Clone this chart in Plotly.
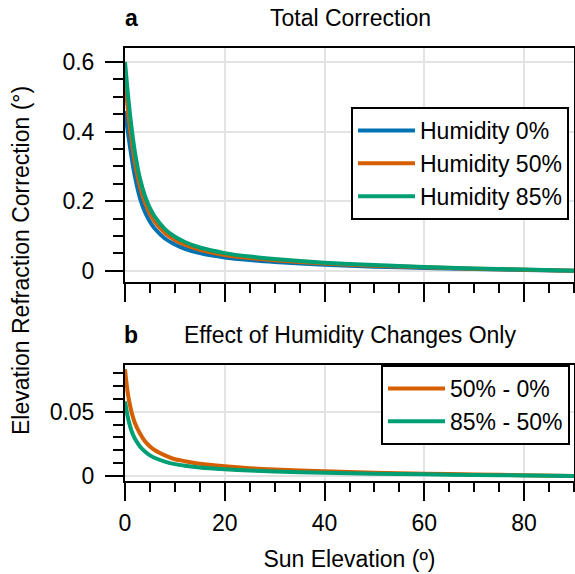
import plotly.graph_objects as go

# ---- data ----
elev = [0, 0.5, 1, 1.5, 2, 3, 4, 5, 6, 8, 10, 12, 15, 20, 25, 30, 40, 50, 60, 70, 80, 90]
hum0 = [0.459, 0.407, 0.356, 0.310, 0.270, 0.209, 0.169, 0.141, 0.121, 0.0928, 0.0758,
        0.0635, 0.0509, 0.0383, 0.0308, 0.0255, 0.0174, 0.0121, 0.0082, 0.0051, 0.0027, 0.0]
hum50 = [0.542, 0.473, 0.411, 0.357, 0.311, 0.242, 0.196, 0.164, 0.141, 0.1088, 0.0888,
         0.0750, 0.0604, 0.0458, 0.0368, 0.0305, 0.0210, 0.0147, 0.0100, 0.0063, 0.0033, 0.0]
hum85 = [0.600, 0.520, 0.450, 0.390, 0.340, 0.265, 0.215, 0.180, 0.155, 0.120, 0.098,
         0.083, 0.067, 0.051, 0.041, 0.034, 0.0235, 0.0165, 0.0113, 0.0071, 0.0037, 0.0]
diff50_0 = [0.083, 0.066, 0.055, 0.047, 0.041, 0.033, 0.027, 0.023, 0.020, 0.016, 0.013,
            0.0115, 0.0095, 0.0075, 0.0060, 0.0050, 0.0036, 0.0026, 0.0018, 0.0012, 0.0006, 0.0]
diff85_50 = [0.058, 0.047, 0.039, 0.033, 0.029, 0.023, 0.019, 0.016, 0.014, 0.0112, 0.0092,
             0.0080, 0.0066, 0.0052, 0.0042, 0.0035, 0.0025, 0.0018, 0.0013, 0.0008, 0.0004, 0.0]

names_top = ["Humidity 0%", "Humidity 50%", "Humidity 85%"]
names_bot = ["50% - 0%", "85% - 50%"]

BLUE, ORANGE, GREEN = "#0072B2", "#D55E00", "#009E73"
FONT = "Liberation Sans, Arial, Helvetica, sans-serif"
FS = 23
W, H = 575, 574


def fx(p):
    return p / W


def fy(p):
    return 1 - p / H


fig = go.Figure()
for ys, nm, c in zip([hum0, hum50, hum85], names_top, [BLUE, ORANGE, GREEN]):
    fig.add_trace(go.Scatter(x=elev, y=ys, name=nm, mode="lines",
                             line=dict(color=c, width=4, shape="spline", smoothing=0.6),
                             xaxis="x", yaxis="y", legend="legend"))
for ys, nm, c in zip([diff50_0, diff85_50], names_bot, [ORANGE, GREEN]):
    fig.add_trace(go.Scatter(x=elev, y=ys, name=nm, mode="lines",
                             line=dict(color=c, width=4, shape="spline", smoothing=0.6),
                             xaxis="x2", yaxis="y2", legend="legend2"))

common = dict(showline=True, linecolor="black", linewidth=2, mirror=True,
              ticks="outside", tickwidth=2, tickcolor="black", automargin=False,
              showgrid=True, gridcolor="#e3e3e3", gridwidth=2, zeroline=False,
              tickfont=dict(family=FONT, size=FS, color="black"))

fig.update_layout(
    width=W, height=H, margin=dict(l=0, r=0, t=0, b=0, autoexpand=False),
    paper_bgcolor="white", plot_bgcolor="white",
    font=dict(family=FONT, size=FS, color="black"),
    xaxis=dict(domain=[fx(125), fx(574)], range=[0, 90], dtick=20, ticklen=18,
               showticklabels=False, anchor="y",
               minor=dict(dtick=5, ticklen=9, tickwidth=2, tickcolor="black",
                          ticks="outside", showgrid=False), **common),
    yaxis=dict(domain=[fy(282), fy(48)], range=[-0.032, 0.640], dtick=0.2, ticklen=18,
               anchor="x", ticklabelstandoff=6,
               minor=dict(dtick=0.05, ticklen=10, tickwidth=2, tickcolor="black",
                          ticks="outside", showgrid=False), **common),
    xaxis2=dict(domain=[fx(125), fx(574)], range=[0, 90], dtick=20, ticklen=18,
                anchor="y2", ticklabelstandoff=2,
                title=dict(text="Sun Elevation (º)", font=dict(size=FS), standoff=16),
                minor=dict(dtick=5, ticklen=9, tickwidth=2, tickcolor="black",
                           ticks="outside", showgrid=False), **common),
    yaxis2=dict(domain=[fy(481), fy(365)], range=[-0.0039, 0.0863], dtick=0.05,
                ticklen=18, anchor="x2", ticklabelstandoff=6,
                minor=dict(dtick=0.01, ticklen=10, tickwidth=2, tickcolor="black",
                           ticks="outside", showgrid=False), **common),
    legend=dict(x=fx(351), y=fy(107), xanchor="left", yanchor="top",
                bordercolor="black", borderwidth=2, bgcolor="white", itemwidth=57,
                font=dict(family=FONT, size=FS, color="black"), tracegroupgap=0),
    legend2=dict(x=fx(381), y=fy(365), xanchor="left", yanchor="top",
                 bordercolor="black", borderwidth=2, bgcolor="white", itemwidth=57,
                 font=dict(family=FONT, size=FS, color="black"), tracegroupgap=0),
    showlegend=True,
)

ann = [
    dict(text="<b>a</b>", x=fx(131), y=fy(18)),
    dict(text="Total Correction", x=fx(350), y=fy(18)),
    dict(text="<b>b</b>", x=fx(131), y=fy(335)),
    dict(text="Effect of Humidity Changes Only", x=fx(350), y=fy(335)),
    dict(text="Elevation Refraction Correction (°)", x=fx(21), y=fy(261), textangle=-90),
]
for a in ann:
    fig.add_annotation(xref="paper", yref="paper", xanchor="center", yanchor="middle",
                       showarrow=False, font=dict(family=FONT, size=FS, color="black"), **a)

fig.write_html("out.html")
